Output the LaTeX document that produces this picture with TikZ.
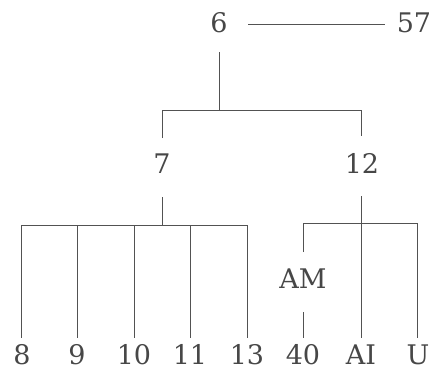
\documentclass[tikz,border=0pt]{standalone}
\usepackage{fontspec}
\setmainfont{DejaVu Serif}
\begin{document}
\begin{tikzpicture}[x=1pt,y=-1pt,
  lbl/.style={inner sep=0pt,anchor=base,text=black!72,font=\fontsize{27}{29}\selectfont},
  ln/.style={draw=black!68,line width=1pt}]
\useasboundingbox (0,0) rectangle (437,376);
% labels
\node[lbl] (n6) at (219,32) {6};
\node[lbl] (n57) at (414,32) {57};
\node[lbl] (n7) at (162,173) {7};
\node[lbl] (n12) at (362,173) {12};
\node[lbl] (nAM) at (303,288) {AM};
\node[lbl] (n8) at (22,364) {8};
\node[lbl] (n9) at (77,364) {9};
\node[lbl] (n10) at (134,364) {10};
\node[lbl] (n11) at (190,364) {11};
\node[lbl] (n13) at (247,364) {13};
\node[lbl] (n40) at (303,364) {40};
\node[lbl] (nAI) at (361,364) {AI};
\node[lbl] (nU) at (418,364) {U};
% junction coordinates
\coordinate (a) at (248,24);
\coordinate (b) at (385,24);
\coordinate (t6) at (219,52);
\coordinate (j6) at (219,110);
\coordinate (jl) at (162,110);
\coordinate (jr) at (361,110);
\coordinate (e7) at (162,138);
\coordinate (e12) at (361,136);
\coordinate (s7) at (162,197);
\coordinate (j7) at (162,225);
\coordinate (s12) at (361,196);
\coordinate (h8) at (21,225);
\coordinate (h9) at (77,225);
\coordinate (h10) at (134,225);
\coordinate (h11) at (190,225);
\coordinate (h13) at (247,225);
\coordinate (h40) at (303,223);
\coordinate (hU) at (417,223);
\coordinate (am1) at (303,252);
\coordinate (am2) at (303,312);
\foreach \c/\x in {b8/21,b9/77,b10/134,b11/190,b13/247,b40/303,bAI/361,bU/417}
  \coordinate (\c) at (\x,338);
% connectors
\draw[ln] (a) -- (b);
\draw[ln] (t6) -- (j6);
\draw[ln] (e7) -- (jl) -- (jr) -- (e12);
\draw[ln] (s7) -- (j7);
\draw[ln] (h8) -- (h13);
\foreach \c in {8,9,10,11,13} \draw[ln] (h\c) -- (b\c);
\draw[ln] (s12) -- (bAI);
\draw[ln] (am1) -- (h40) -- (hU) -- (bU);
\draw[ln] (am2) -- (b40);
\end{tikzpicture}
\end{document}
